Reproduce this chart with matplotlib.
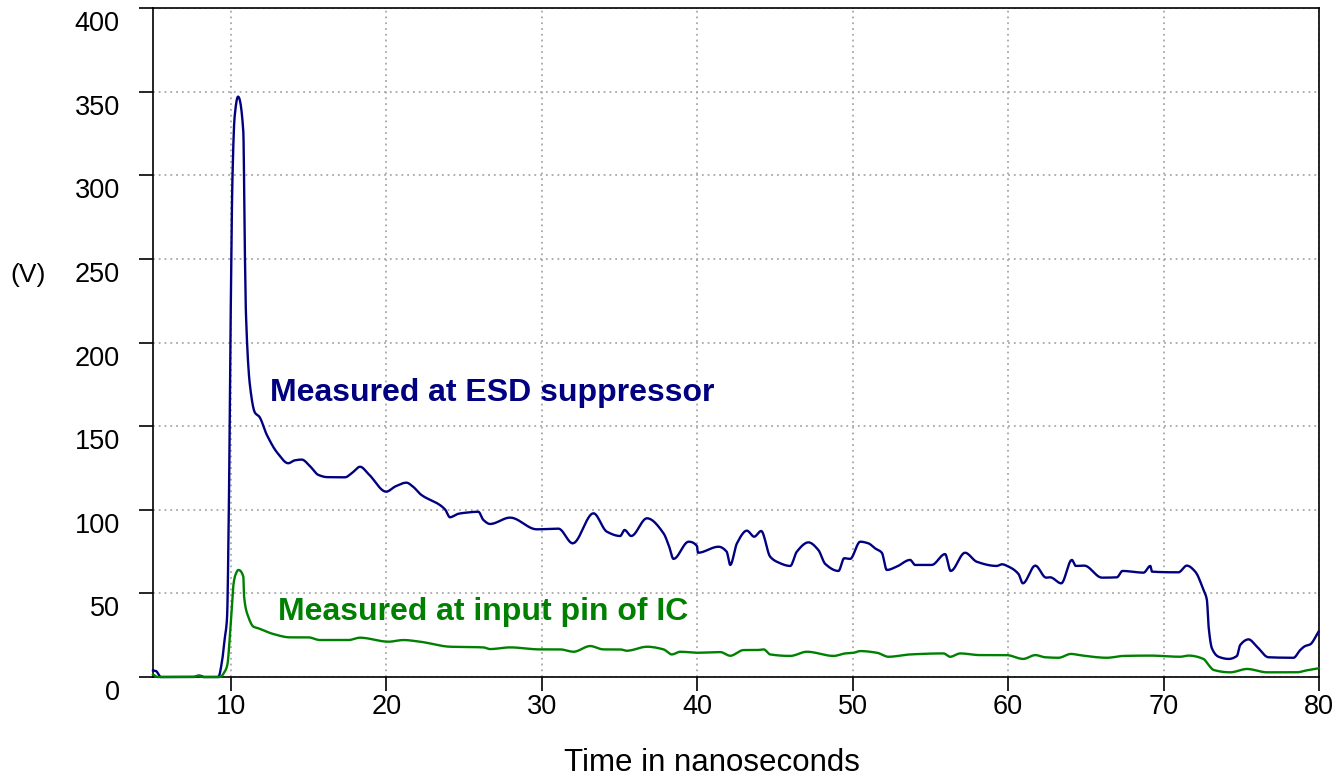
import matplotlib
matplotlib.use("Agg")
import numpy as np
import matplotlib.pyplot as plt
from matplotlib.transforms import ScaledTranslation

plt.rcParams['font.family'] = ['Liberation Sans', 'DejaVu Sans']

# ---- data (time in ns, voltage in V) ----
t_esd = [5.0, 5.2, 5.5, 7.6, 8.0, 8.3, 9.2, 9.45, 9.6, 9.76, 9.89, 9.98, 10.11, 10.25,
         10.47, 10.81, 10.9, 10.98, 11.24, 11.56, 11.84, 12.31, 13.0, 13.7, 14.1, 14.57,
         15.1, 15.64, 16.2, 17.35, 17.8, 18.32, 18.9, 20.0, 20.6, 21.3, 21.7, 22.27, 23.46,
         23.8, 24.1, 24.6, 25.07, 25.93, 26.25, 26.68, 27.97, 29.68, 31.08, 32.0, 33.33,
         34.19, 35.05, 35.33, 35.76, 36.77, 37.84, 38.2, 38.48, 39.45, 39.99, 40.05, 41.38,
         41.9, 42.13, 42.56, 43.2, 43.67, 44.12, 44.7, 45.13, 45.99, 46.41, 47.16, 47.8,
         48.24, 49.09, 49.46, 49.84, 50.49, 51.02, 51.45, 51.88, 52.2, 52.84, 53.7, 54.02,
         55.09, 55.95, 56.31, 57.23, 57.99, 59.27, 59.6, 60.03, 60.67, 60.95, 61.75, 62.45,
         62.71, 63.42, 64.1, 64.36, 64.9, 66.04, 67.0, 67.36, 68.72, 69.15, 69.25, 70.96,
         71.5, 72.04, 72.57, 72.79, 72.9, 73.11, 73.54, 74.18, 74.72, 74.93, 75.47, 76.01,
         76.75, 78.36, 78.79, 79.11, 79.43, 79.97]
v_esd = [4, 3.5, 0, 0, 0.8, 0, 0, 10, 22, 35, 110, 201, 298, 335,
         347, 326, 260, 217, 174, 158, 155.6, 145, 134, 127.8, 129.5, 130,
         126, 120.8, 119.5, 119.4, 122, 125.7, 121, 110.8, 114, 116.2, 114, 108.8, 102.8,
         100, 95.5, 97.5, 98.2, 98.8, 93.9, 91.5, 95.3, 88.3, 88.7, 79.9, 97.9,
         86.9, 84.3, 87.9, 84.3, 94.9, 85.9, 78, 70.6, 80.9, 78.3, 74.3, 77.9,
         74.9, 67, 79.9, 87.5, 83.9, 87.3, 71.9, 68.9, 66.4, 74.9, 80.5, 75.9,
         67.6, 63.4, 71.0, 70.6, 80.9, 79.9, 76.9, 74.3, 64.0, 66.0, 70.0, 67,
         67, 73.5, 63.4, 74.3, 68.9, 66.4, 67.4, 66.0, 61.6, 56.0, 66.6, 59.4,
         59.6, 56.0, 70, 66.4, 66.6, 59.4, 59.6, 63.4, 62.4, 66.4, 63.0, 62.6,
         66.6, 63, 52, 46, 30, 17.2, 12.1, 10.8, 12.6, 19.1, 22.5, 18.1,
         11.8, 11.5, 16.1, 18.5, 19.5, 27.1]

t_pin = [5.0, 5.3, 7.6, 7.9, 8.2, 9.31, 9.6, 9.78, 9.95, 10.06, 10.17, 10.3, 10.49, 10.81,
         10.86, 11.13, 11.46, 11.78, 12.74, 13.82, 14.99, 15.74, 17.57, 18.32, 20.14, 21.11,
         22.18, 24.11, 26.25, 26.68, 27.97, 29.9, 31.19, 32.05, 33.12, 33.98, 35.05, 35.48,
         36.77, 37.84, 38.37, 38.91, 39.98, 41.49, 42.13, 42.99, 43.85, 44.28, 44.7, 45.99,
         47.06, 48.78, 49.53, 50.06, 50.49, 51.56, 52.31, 53.7, 55.85, 56.28, 56.92, 58.2,
         59.9, 60.97, 61.75, 62.39, 63.25, 64.04, 64.64, 66.36, 67.43, 69.15, 71.07, 71.61,
         72.57, 72.9, 73.22, 74.3, 75.37, 76.66, 78.59, 79.11, 79.97]
v_pin = [1.5, 0, 0, 0.8, 0, 0, 3, 7.2, 25, 40, 55, 61, 64, 60,
         48, 36, 30.1, 29.1, 25.7, 23.7, 23.7, 22.1, 22.1, 23.5, 21.1, 22.1,
         21.1, 18.1, 17.7, 16.7, 17.7, 16.5, 16.5, 15.1, 18.5, 16.5, 16.5, 15.7,
         18.1, 16.5, 13.5, 15.1, 14.5, 14.9, 12.7, 16.1, 16.1, 16.5, 13.5, 12.6,
         15.1, 12.6, 14.1, 14.5, 15.5, 14.5, 12.1, 13.5, 14.1, 12.1, 14.1, 13.1,
         13.1, 10.8, 13.1, 11.8, 11.5, 13.8, 13, 11.5, 12.6, 12.8, 12.1, 12.8,
         10.8, 7.2, 4.2, 2.8, 4.8, 2.8, 2.8, 3.8, 5.2]

x_ticks = [10, 20, 30, 40, 50, 60, 70, 80]
y_ticks = [0, 50, 100, 150, 200, 250, 300, 350, 400]

label_esd = "Measured at ESD suppressor"
label_pin = "Measured at input pin of IC"
x_label = "Time in nanoseconds"
y_label = "(V)"

col_esd = "#000080"
col_pin = "#008000"


def smooth(x, y, n=12):
    """Monotone cubic (Fritsch-Carlson) path through the given points, for drawing."""
    x = np.asarray(x, float)
    y = np.asarray(y, float)
    h = np.diff(x)
    d = np.diff(y) / h
    m = np.zeros_like(y)
    m[0], m[-1] = d[0], d[-1]
    for i in range(1, len(x) - 1):
        if d[i - 1] * d[i] <= 0:
            m[i] = 0.0
        else:
            w1 = 2 * h[i] + h[i - 1]
            w2 = h[i] + 2 * h[i - 1]
            m[i] = (w1 + w2) / (w1 / d[i - 1] + w2 / d[i])
    xs, ys = [], []
    for i in range(len(x) - 1):
        s = np.linspace(0, 1, n, endpoint=False)
        h00 = 2 * s**3 - 3 * s**2 + 1
        h10 = s**3 - 2 * s**2 + s
        h01 = -2 * s**3 + 3 * s**2
        h11 = s**3 - s**2
        xs.append(x[i] + s * h[i])
        ys.append(h00 * y[i] + h10 * h[i] * m[i] + h01 * y[i + 1] + h11 * h[i] * m[i + 1])
    xs.append([x[-1]])
    ys.append([y[-1]])
    return np.concatenate(xs), np.concatenate(ys)


fig = plt.figure(figsize=(13.43, 7.78), dpi=100)
ax = fig.add_axes([153/1343, 1 - 677/778, (1319 - 153)/1343, (677 - 8)/778])

ax.plot(*smooth(t_esd, v_esd), color=col_esd, lw=1.7, zorder=3, clip_on=False)
ax.plot(*smooth(t_pin, v_pin), color=col_pin, lw=1.7, zorder=3, clip_on=False)

ax.set_xlim(5, 80)
ax.set_ylim(0, 400)
ax.set_xticks(x_ticks)
ax.set_yticks(y_ticks)
ax.set_xticklabels([str(v) for v in x_ticks])
ax.set_yticklabels([str(v) for v in y_ticks])

ax.grid(True, color="#a8a8a8", linestyle=(0, (1, 2.2)), linewidth=1.3)
for sp in ax.spines.values():
    sp.set_linewidth(1.2)
    sp.set_color("black")

ax.tick_params(axis='both', direction='out', length=10, width=1.2, labelsize=19.5)
ax.tick_params(axis='x', pad=2)
ax.tick_params(axis='y', pad=14)

off = ScaledTranslation(0, -13/100, fig.dpi_scale_trans)
for lbl in ax.get_yticklabels():
    lbl.set_transform(lbl.get_transform() + off)

fig.text(712/1343, 1 - 763/778, x_label, fontsize=22.5, ha='center', va='center')
fig.text(28/1343, 1 - 275/778, y_label, fontsize=19, ha='center', va='center')

ax.text(12.53, 170, label_esd, color=col_esd, fontsize=23, fontweight='bold',
        ha='left', va='center')
ax.text(13.04, 38.9, label_pin, color=col_pin, fontsize=23, fontweight='bold',
        ha='left', va='center')

fig.savefig("out.png", dpi=100)
